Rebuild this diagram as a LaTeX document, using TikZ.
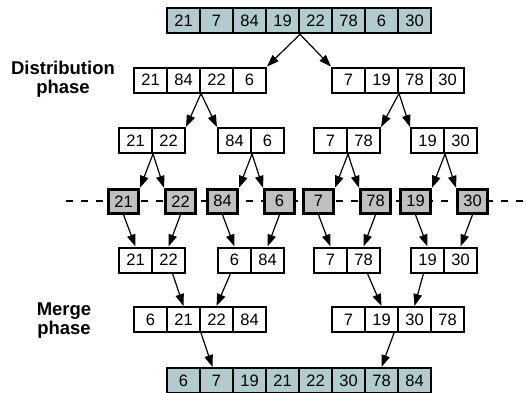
\documentclass[tikz,border=0pt]{standalone}
\usepackage{fontspec}
\setmainfont{Liberation Sans}
\usetikzlibrary{arrows.meta}

\definecolor{sortedfill}{RGB}{176,204,206}
\definecolor{singlefill}{RGB}{192,192,192}

\tikzset{
  cell/.style={draw, line width=2pt, minimum width=33pt, minimum height=25pt,
    inner sep=0pt, font=\fontsize{16.5}{18}\selectfont},
  endcell/.style={cell, fill=sortedfill},
  onecell/.style={cell, line width=3pt, fill=singlefill, minimum width=30pt, minimum height=24pt},
  split/.style={-{Triangle[length=12pt,width=8.5pt]}, line width=1.2pt},
  cutline/.style={line width=2pt, dash pattern=on 7pt off 8pt},
  phase/.style={font=\fontsize{18.5}{19}\selectfont\bfseries, align=center}
}

\begin{document}
\begin{tikzpicture}[x=1pt,y=-1pt]
  \useasboundingbox (0,0) rectangle (526,392);

  % phase labels
  \node[phase] (dist) at (63,79) {Distribution\\phase};
  \node[phase] (merge) at (64,321) {Merge\\phase};

  % single elements sit on this line
  \draw[cutline] (66,201.3) -- (526,201.3);

  % unsorted input and sorted output
  \foreach \v [count=\i] in {21,7,84,19,22,78,6,30}
    \node[endcell] (top-\i) at ({150.5+33*\i},20.8) {\v};
  \foreach \v [count=\i] in {6,7,19,21,22,30,78,84}
    \node[endcell] (bot-\i) at ({150.5+33*\i},380.5) {\v};

  % halves
  \foreach \v [count=\i] in {21,84,22,6}
    \node[cell] (dl-\i) at ({117.5+33*\i},80) {\v};
  \foreach \v [count=\i] in {7,19,78,30}
    \node[cell] (dr-\i) at ({315.5+33*\i},80) {\v};
  \foreach \v [count=\i] in {6,21,22,84}
    \node[cell] (ml-\i) at ({117.5+33*\i},319.5) {\v};
  \foreach \v [count=\i] in {7,19,30,78}
    \node[cell] (mr-\i) at ({315.5+33*\i},319.5) {\v};

  % pairs, single elements, merged pairs
  \foreach \l/\a/\b/\c/\d [count=\k] in {119/21/22/21/22, 218/84/6/6/84, 314/7/78/7/78, 411/19/30/19/30} {
    \node[cell] (p\k-1) at ({\l+16.5},140.5) {\a};
    \node[cell] (p\k-2) at ({\l+49.5},140.5) {\b};
    \node[onecell] (g\k-1) at ({\l+4.5},201.3) {\a};
    \node[onecell] (g\k-2) at ({\l+61.5},201.3) {\b};
    \node[cell] (q\k-1) at ({\l+16.5},260) {\c};
    \node[cell] (q\k-2) at ({\l+49.5},260) {\d};
    \draw[split] (p\k-1.south east) -- (g\k-1.north east);
    \draw[split] (p\k-1.south east) -- (g\k-2.north west);
    \draw[split] (g\k-1.south) -- (q\k-1.north);
    \draw[split] (g\k-2.south) -- (q\k-2.north);
  }

  % distribution
  \draw[split] (top-4.south east) -- (dl-4.north east);
  \draw[split] (top-4.south east) -- (dr-1.north west);
  \draw[split] (dl-2.south east) -- (p1-2.north east);
  \draw[split] (dl-2.south east) -- (p2-1.north west);
  \draw[split] (dr-2.south east) -- (p3-2.north east);
  \draw[split] (dr-2.south east) -- (p4-1.north west);

  % merge
  \draw[split] ([xshift=4pt]q1-2.south) -- (ml-2.north);
  \draw[split] ([xshift=-4pt]q2-1.south) -- (ml-3.north);
  \draw[split] ([xshift=4pt]q3-2.south) -- (mr-2.north);
  \draw[split] ([xshift=-4pt]q4-1.south) -- (mr-3.north);
  \draw[split] (ml-2.south east) -- ([xshift=-4pt]bot-2.north);
  \draw[split] ([xshift=-5pt]mr-2.south east) -- (bot-7.north);
\end{tikzpicture}
\end{document}
